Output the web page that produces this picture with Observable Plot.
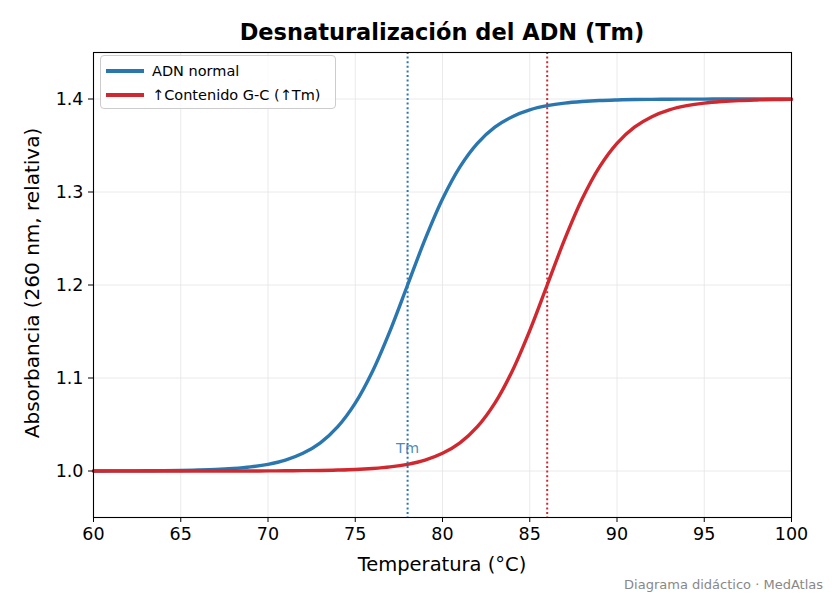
<!DOCTYPE html>
<html><head><meta charset="utf-8">
<script src="https://cdn.jsdelivr.net/npm/d3@7"></script>
<script src="https://cdn.jsdelivr.net/npm/@observablehq/plot@0.6"></script>
<style>
body{margin:0;background:#fff;font-family:"DejaVu Sans",sans-serif;}
#wrap{position:relative;width:832px;height:598px;}
.abs{position:absolute;white-space:nowrap;line-height:1;}
#title{left:442px;top:32px;transform:translate(-50%,-50%);font-weight:bold;font-size:22.5px;}
#xlab{left:442px;top:565px;transform:translate(-50%,-50%);font-size:19.5px;}
#ylab{left:32px;top:283px;transform:translate(-50%,-50%) rotate(-90deg);font-size:20px;}
#cap{right:9px;top:578px;font-size:13px;color:#888;}
#legend{left:100px;top:55px;width:234px;height:52px;border:1px solid #ccc;border-radius:4px;background:rgba(255,255,255,0.8);font-size:14.5px;}
.li{position:absolute;left:5px;display:flex;align-items:center;height:18px;}
.sw{width:38px;height:4px;margin-right:8px;}
</style></head>
<body><div id="wrap"></div>
<script>
const temps = [60,61,62,63,64,65,66,67,68,69,70,71,72,73,74,75,76,77,78,79,80,81,82,83,84,85,86,87,88,89,90,91,92,93,94,95,96,97,98,99,100];
const normal = [1.0000,1.0001,1.0001,1.0002,1.0004,1.0006,1.0010,1.0016,1.0027,1.0044,1.0072,1.0117,1.0190,1.0303,1.0477,1.0730,1.1076,1.1510,1.2000,1.2490,1.2924,1.3270,1.3523,1.3697,1.3810,1.3883,1.3928,1.3956,1.3973,1.3984,1.3990,1.3994,1.3996,1.3998,1.3999,1.3999,1.4000,1.4000,1.4000,1.4000,1.4000];
const highGC = [1.0000,1.0000,1.0000,1.0000,1.0000,1.0000,1.0000,1.0000,1.0000,1.0000,1.0001,1.0002,1.0004,1.0006,1.0010,1.0016,1.0027,1.0044,1.0072,1.0117,1.0190,1.0303,1.0477,1.0730,1.1076,1.1510,1.2000,1.2490,1.2924,1.3270,1.3523,1.3697,1.3810,1.3883,1.3928,1.3956,1.3973,1.3984,1.3990,1.3994,1.3996];
const tmValues = [78, 86];
const seriesNames = ["ADN normal", "↑Contenido G-C (↑Tm)"];
const colors = ["#2a77b0", "#d1282f"];
const xTicks = [60,65,70,75,80,85,90,95,100];
const yTicks = [1.0,1.1,1.2,1.3,1.4];

const dN = temps.map((t,i)=>({t, a: normal[i]}));
const dG = temps.map((t,i)=>({t, a: highGC[i]}));

const chart = Plot.plot({
  width: 832, height: 598,
  marginLeft: 93, marginRight: 41, marginTop: 52, marginBottom: 81,
  style: {fontFamily: "DejaVu Sans, sans-serif", fontSize: "17px", color: "#000", background: "transparent"},
  x: {domain: [60,100], label: null},
  y: {domain: [0.95,1.45], label: null},
  marks: [
    Plot.gridX(xTicks, {stroke: "#e4e4e4", strokeOpacity: 1, strokeWidth: 0.8}),
    Plot.gridY(yTicks, {stroke: "#e4e4e4", strokeOpacity: 1, strokeWidth: 0.8}),
    Plot.line(dN, {x: "t", y: "a", stroke: colors[0], strokeWidth: 3.4, curve: "catmull-rom"}),
    Plot.line(dG, {x: "t", y: "a", stroke: colors[1], strokeWidth: 3.4, curve: "catmull-rom"}),
    Plot.ruleX([tmValues[0]], {stroke: colors[0], strokeWidth: 2, strokeDasharray: "2,2.6"}),
    Plot.ruleX([tmValues[1]], {stroke: colors[1], strokeWidth: 2, strokeDasharray: "2,2.6"}),
    Plot.text([{t: tmValues[0], a: 1.019}], {x: "t", y: "a", text: ()=>"Tm", fill: colors[0], fillOpacity: 0.85, fontSize: 14.5, textAnchor: "middle", lineAnchor: "bottom"}),
    Plot.frame({stroke: "#000", strokeWidth: 1.1}),
    Plot.axisX(xTicks, {tickSize: 5, tickPadding: 5, fontSize: 17.5, label: null}),
    Plot.axisY(yTicks, {tickSize: 5, tickPadding: 5, tickFormat: d3.format(".1f"), fontSize: 17.5, label: null})
  ]
});
const wrap = document.getElementById("wrap");
wrap.appendChild(chart);
function add(id, txt){const d=document.createElement("div");d.className="abs";d.id=id;d.textContent=txt;wrap.appendChild(d);return d;}
add("title","Desnaturalización del ADN (Tm)");
add("xlab","Temperatura (°C)");
add("ylab","Absorbancia (260 nm, relativa)");
add("cap","Diagrama didáctico · MedAtlas");
const lg = document.createElement("div"); lg.className="abs"; lg.id="legend";
seriesNames.forEach((n,i)=>{
  const r=document.createElement("div"); r.className="li"; r.style.top=(i===0?6:30)+"px";
  const s=document.createElement("div"); s.className="sw"; s.style.background=colors[i];
  const t=document.createElement("span"); t.textContent=n;
  r.appendChild(s); r.appendChild(t); lg.appendChild(r);
});
wrap.appendChild(lg);
</script></body></html>
